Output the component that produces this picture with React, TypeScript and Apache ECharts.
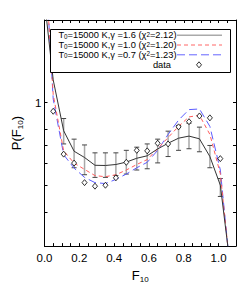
import React, { useEffect, useRef } from "react";
import * as echarts from "echarts";

// Flux bin centres for the model curves
const MODEL_F = [-0.01, 0.05, 0.11, 0.17, 0.23, 0.29, 0.35, 0.41, 0.47, 0.53, 0.59, 0.65, 0.71, 0.77, 0.83, 0.89, 0.95, 1.01, 1.07];
// T0=15000 K, gamma=1.6
const MODEL_G16 = [2.7, 1.21, 0.79, 0.665, 0.631, 0.591, 0.59, 0.595, 0.607, 0.627, 0.64, 0.678, 0.711, 0.742, 0.755, 0.738, 0.636, 0.5, 0.245];
// T0=15000 K, gamma=1.0
const MODEL_G10 = [4.5, 1.07, 0.667, 0.602, 0.571, 0.542, 0.537, 0.546, 0.568, 0.595, 0.62, 0.679, 0.746, 0.819, 0.887, 0.899, 0.766, 0.55, 0.236];
// T0=15000 K, gamma=0.7
const MODEL_G07 = [4.8, 1.03, 0.646, 0.577, 0.534, 0.511, 0.507, 0.525, 0.549, 0.579, 0.606, 0.67, 0.766, 0.863, 0.943, 0.948, 0.819, 0.568, 0.233];

// observed data (diamonds)
const DATA_F = [0.05, 0.11, 0.17, 0.23, 0.29, 0.35, 0.41, 0.47, 0.53, 0.59, 0.65, 0.71, 0.77, 0.83, 0.89, 0.95, 1.01];
const DATA_P = [0.93, 0.649, 0.602, 0.511, 0.496, 0.5, 0.532, 0.606, 0.67, 0.667, 0.711, 0.707, 0.816, 0.852, 0.894, 0.88, 0.625];

// error bars on the gamma=1.6 model
const ERR_F = [0.11, 0.17, 0.23, 0.29, 0.35, 0.41, 0.47, 0.53, 0.59, 0.65, 0.71, 0.77, 0.83, 0.89, 0.95, 1.01];
const ERR_LOW = [0.707, 0.579, 0.546, 0.534, 0.534, 0.542, 0.549, 0.568, 0.574, 0.603, 0.636, 0.67, 0.679, 0.662, 0.579, 0.455];
const ERR_HIGH = [0.875, 0.736, 0.701, 0.656, 0.656, 0.656, 0.67, 0.688, 0.707, 0.736, 0.787, 0.825, 0.841, 0.814, 0.698, 0.529];

// axes
const X_LABELS = [0, 0.2, 0.4, 0.6, 0.8, 1.0];
const Y_TICKS = [0.3, 0.4, 0.5, 0.6, 0.7, 0.8, 1, 2];
const Y_LABELS = [1];
const Y_MIN = 0.3;
const Y_MAX = 2;

const LEGEND = [
  { g: "1.6", chi: "2.12" },
  { g: "1.0", chi: "1.20" },
  { g: "0.7", chi: "1.23" },
];

const FONT = "'Liberation Sans', Arial, Helvetica, sans-serif";
const lg = (v: number) => Math.log10(v);

export default function App() {
  const ref = useRef<HTMLDivElement>(null);
  useEffect(() => {
    if (!ref.current) return;
    const chart = echarts.init(ref.current, null, { renderer: "svg" });

    const axisLine = { show: true, onZero: false, lineStyle: { color: "#000", width: 1 } };
    const xTickLabel = (v: number) =>
      X_LABELS.some((l) => Math.abs(l - v) < 1e-6) ? v.toFixed(1) : "";

    const nameRich = {
      a: { fontSize: 13, fontFamily: FONT, color: "#000", lineHeight: 15 },
      b: { fontSize: 8, fontFamily: FONT, color: "#000", lineHeight: 6, verticalAlign: "bottom" },
    };

    const legendRich = {
      n: { fontSize: 9.3, fontFamily: FONT, fill: "#000", lineHeight: 8 },
      s: { fontSize: 6.3, fontFamily: FONT, fill: "#000", lineHeight: 4, verticalAlign: "bottom" },
      p: { fontSize: 6.3, fontFamily: FONT, fill: "#000", lineHeight: 4, verticalAlign: "top" },
    };

    const rowY = [35.2, 45.0, 54.8, 64.8];
    const legendColors = ["#aaaaaa", "#ff6666", "#6666ff"];
    const legendDash: any[] = [null, [4, 3], [8, 4]];
    const legendEls: any[] = [
      {
        type: "rect",
        shape: { x: 50.5, y: 29.5, width: 180, height: 43 },
        style: { fill: "#fff", stroke: "#000", lineWidth: 1 },
        z: 10,
      },
    ];
    LEGEND.forEach((it, i) => {
      legendEls.push({
        type: "text",
        x: 176.5,
        y: rowY[i],
        z: 11,
        style: {
          text: `{n|T}{s|0}{n|=15000 K,γ =${it.g} (χ}{p|2}{n|=${it.chi})}`,
          rich: legendRich,
          align: "right",
          verticalAlign: "middle",
          fill: "#000",
        },
      });
      legendEls.push({
        type: "line",
        z: 11,
        shape: { x1: 177, y1: rowY[i], x2: 222, y2: rowY[i] },
        style: {
          stroke: legendColors[i],
          lineWidth: i === 0 ? 1.5 : 1,
          lineDash: legendDash[i] || undefined,
        },
      });
    });
    legendEls.push({
      type: "text",
      x: 171,
      y: rowY[3],
      z: 11,
      style: { text: "data", font: `9.3px ${FONT}`, fill: "#000", align: "right", verticalAlign: "middle" },
    });
    legendEls.push({
      type: "polygon",
      z: 11,
      shape: { points: [[199, rowY[3] - 3], [201.5, rowY[3]], [199, rowY[3] + 3], [196.5, rowY[3]]] },
      style: { fill: "#fff", stroke: "#000", lineWidth: 0.8 },
    });

    const option: any = {
      animation: false,
      grid: { left: 44.5, right: 13, top: 20, bottom: 36, show: false },
      xAxis: [
        {
          type: "value",
          min: 0,
          max: 1.1,
          interval: 0.05,
          position: "bottom",
          axisLine,
          axisTick: { inside: true, length: 3, lineStyle: { color: "#000" } },
          axisLabel: { formatter: xTickLabel, fontSize: 11.5, fontFamily: FONT, color: "#000", margin: 6, showMaxLabel: false },
          splitLine: { show: false },
          name: "{a|F}{b|10}",
          nameLocation: "middle",
          nameGap: 18,
          nameTextStyle: { rich: nameRich },
        },
        {
          type: "value",
          min: 0,
          max: 1.1,
          interval: 0.05,
          position: "top",
          axisLine,
          axisTick: { inside: true, length: 3, lineStyle: { color: "#000" } },
          axisLabel: { show: false },
          splitLine: { show: false },
        },
      ],
      yAxis: [
        {
          type: "value",
          min: lg(Y_MIN),
          max: lg(Y_MAX),
          position: "left",
          axisLine,
          axisTick: { inside: true, length: 3, lineStyle: { color: "#000" }, customValues: Y_TICKS.map(lg) },
          axisLabel: {
            customValues: Y_LABELS.map(lg),
            formatter: (v: number) => String(Math.round(Math.pow(10, v) * 10) / 10),
            fontSize: 11.5,
            fontFamily: FONT,
            color: "#000",
            margin: 3,
          },
          splitLine: { show: false },
          name: "{a|P(F}{b|10}{a|)}",
          nameLocation: "middle",
          nameGap: 15,
          nameRotate: 90,
          nameTextStyle: { rich: nameRich },
        },
        {
          type: "value",
          min: lg(Y_MIN),
          max: lg(Y_MAX),
          position: "right",
          axisLine,
          axisTick: { inside: true, length: 3, lineStyle: { color: "#000" }, customValues: Y_TICKS.map(lg) },
          axisLabel: { show: false },
          splitLine: { show: false },
        },
      ],
      graphic: { elements: legendEls },
      series: [
        {
          type: "custom",
          name: "err",
          z: 2,
          clip: true,
          data: ERR_F.map((f, i) => [f, lg(ERR_LOW[i]), lg(ERR_HIGH[i])]),
          encode: { x: 0, y: [1, 2] },
          renderItem: (params: any, api: any) => {
            const x = api.value(0);
            const lo = api.coord([x, api.value(1)]);
            const hi = api.coord([x, api.value(2)]);
            const cap = 2.5;
            return {
              type: "group",
              children: [
                { type: "line", shape: { x1: lo[0], y1: lo[1], x2: hi[0], y2: hi[1] }, style: { stroke: "#a8a8a8", lineWidth: 1.5 } },
                { type: "line", shape: { x1: lo[0] - cap, y1: lo[1], x2: lo[0] + cap, y2: lo[1] }, style: { stroke: "#444", lineWidth: 1 } },
                { type: "line", shape: { x1: hi[0] - cap, y1: hi[1], x2: hi[0] + cap, y2: hi[1] }, style: { stroke: "#444", lineWidth: 1 } },
              ],
            };
          },
        },
        {
          type: "line",
          name: "g07",
          z: 3,
          clip: true,
          showSymbol: false,
          data: MODEL_F.map((f, i) => [f, lg(MODEL_G07[i])]),
          lineStyle: { color: "#5c5cff", width: 1, type: [8, 4] },
        },
        {
          type: "line",
          name: "g10",
          z: 3,
          clip: true,
          showSymbol: false,
          data: MODEL_F.map((f, i) => [f, lg(MODEL_G10[i])]),
          lineStyle: { color: "#ff5c5c", width: 1, type: [4, 3] },
        },
        {
          type: "line",
          name: "g16",
          z: 4,
          clip: true,
          showSymbol: false,
          data: MODEL_F.map((f, i) => [f, lg(MODEL_G16[i])]),
          lineStyle: { color: "#333", width: 1 },
        },
        {
          type: "scatter",
          name: "data",
          z: 5,
          clip: true,
          symbol: "diamond",
          symbolSize: [5, 6],
          data: DATA_F.map((f, i) => [f, lg(DATA_P[i])]),
          itemStyle: { color: "#fff", borderColor: "#000", borderWidth: 0.8, opacity: 1 },
        },
      ],
    };
    chart.setOption(option);
    return () => chart.dispose();
  }, []);

  return (
    <div
      ref={ref}
      style={{ position: "absolute", left: 0, top: 0, width: 249, height: 288, background: "#fff" }}
    />
  );
}
